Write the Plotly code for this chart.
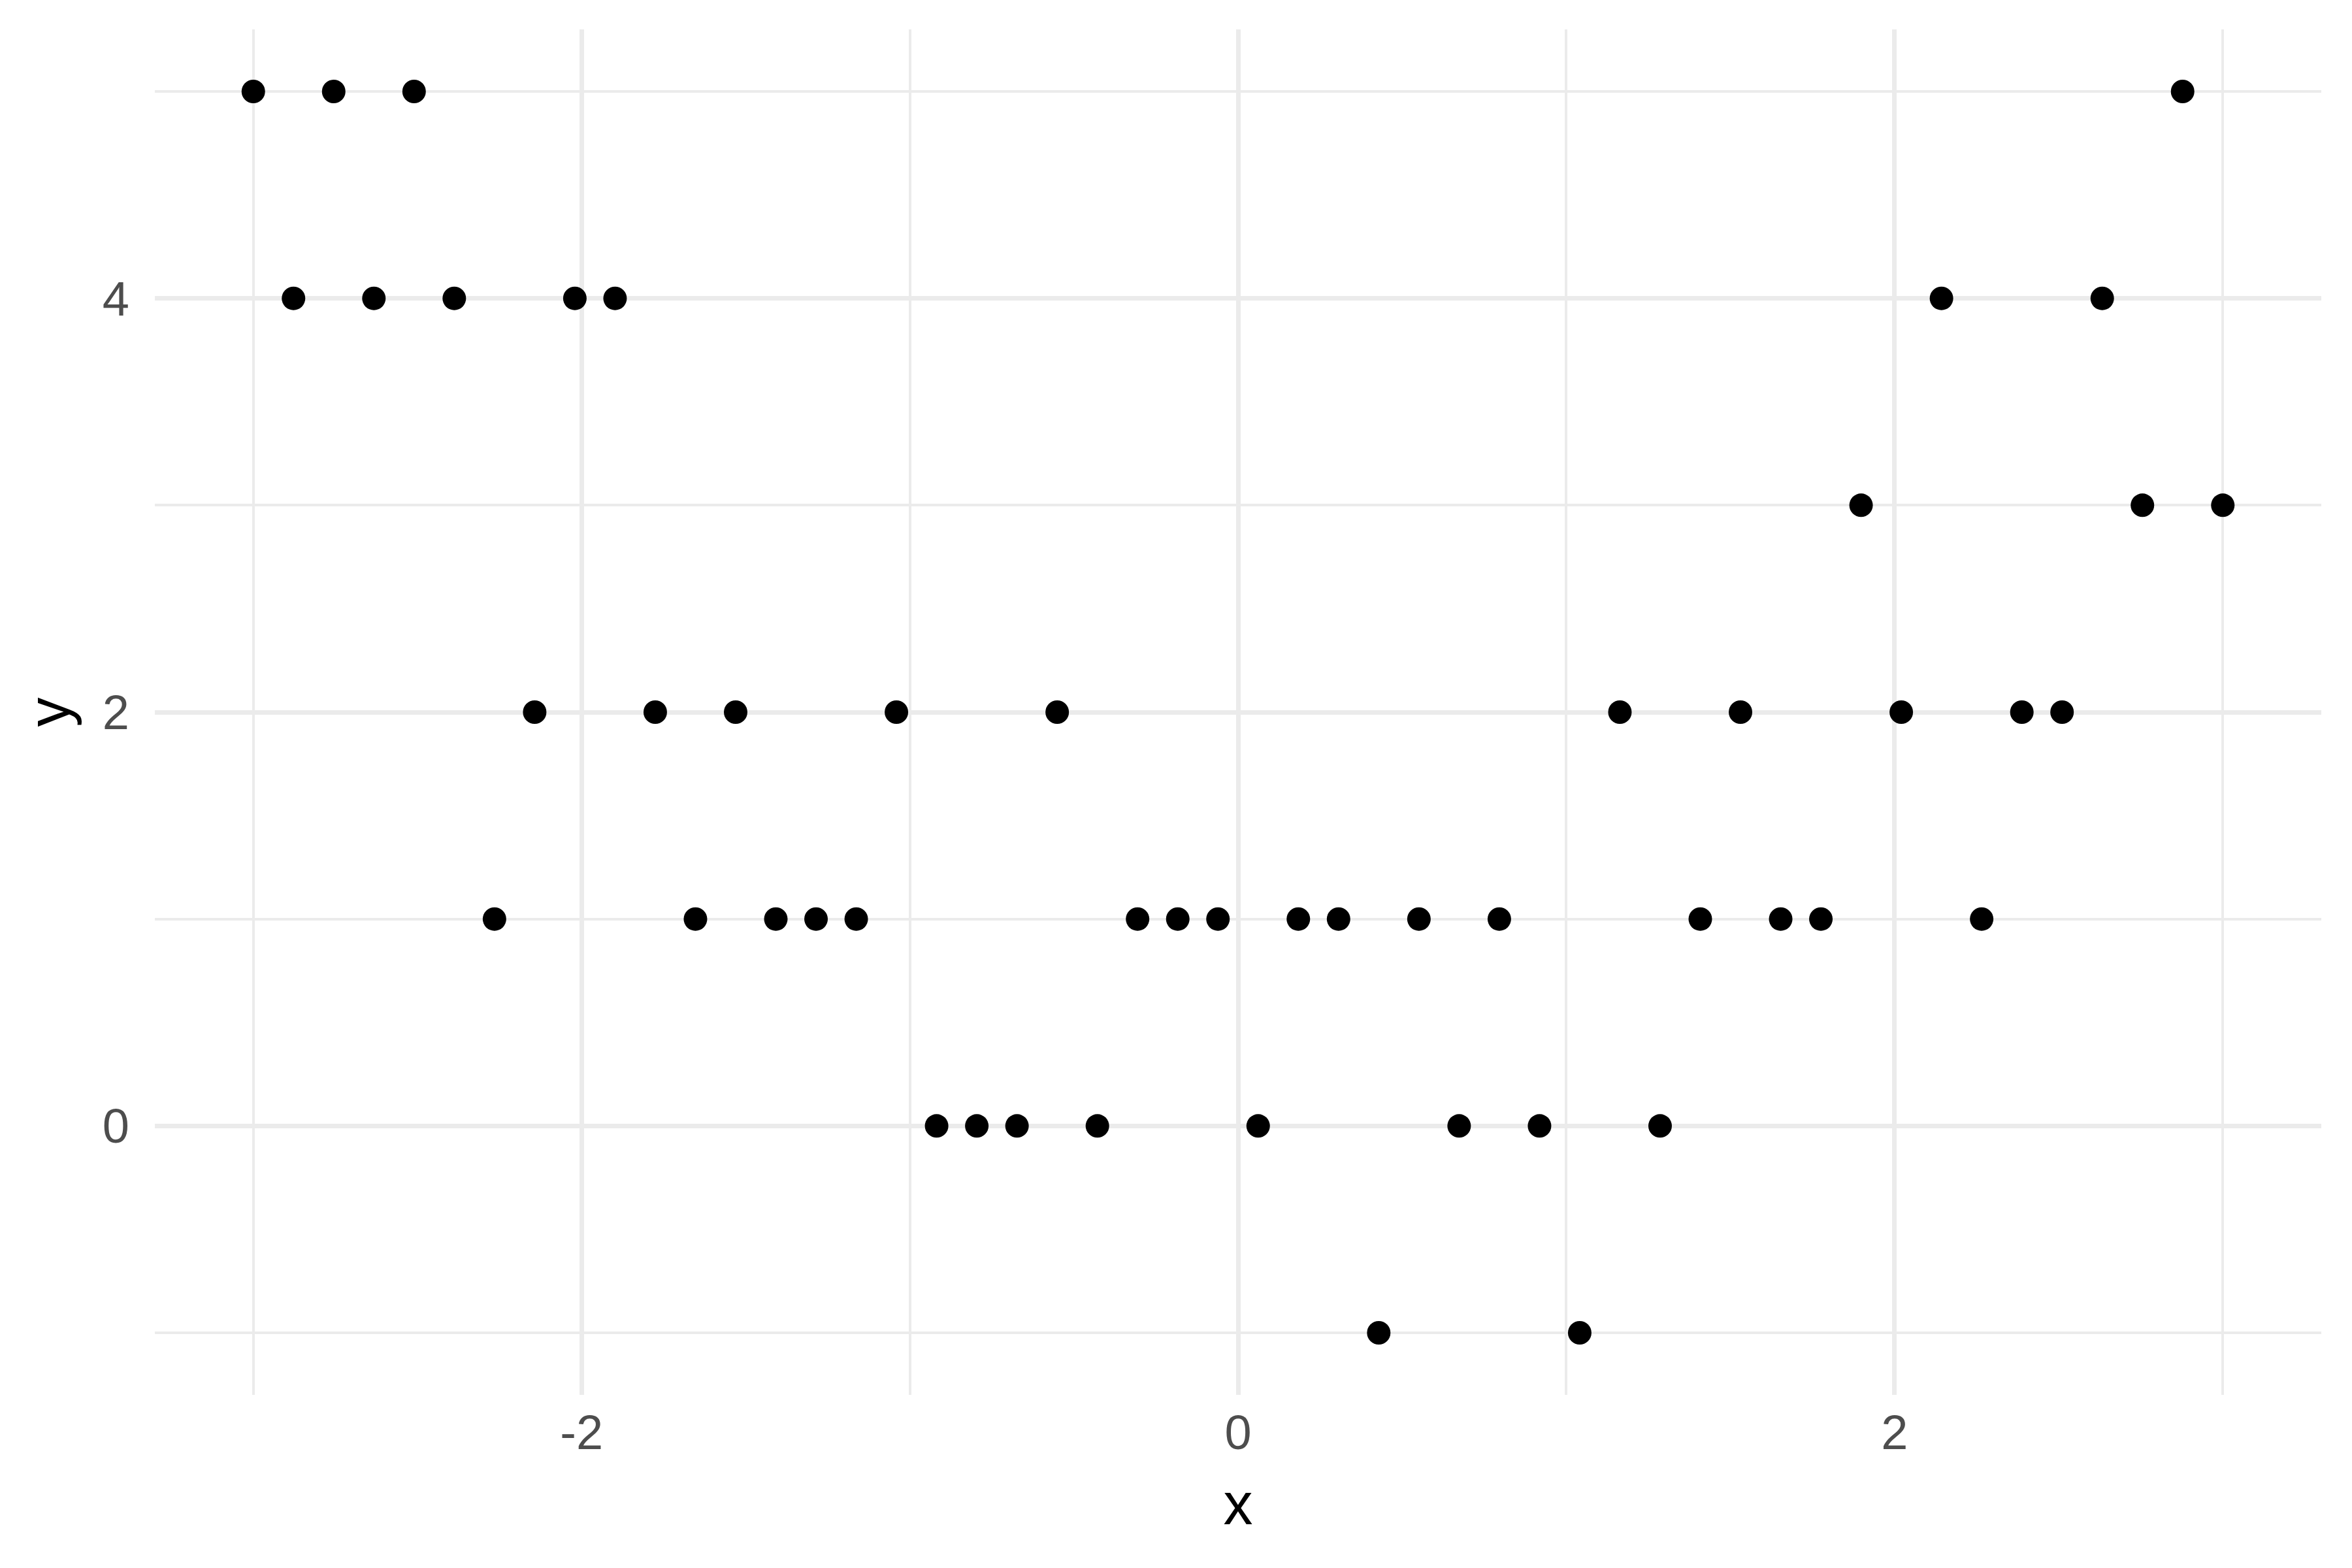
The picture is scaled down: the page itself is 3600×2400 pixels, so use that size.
import numpy as np
import plotly.graph_objects as go

x_vals = list(np.linspace(-3, 3, 50))
y_vals = [5, 4, 5, 4, 5, 4, 1, 2, 4, 4,
          2, 1, 2, 1, 1, 1, 2, 0, 0, 0,
          2, 0, 1, 1, 1, 0, 1, 1, -1, 1,
          0, 1, 0, -1, 2, 0, 1, 2, 1, 1,
          3, 2, 4, 1, 2, 2, 4, 3, 5, 3]
x_major = [-2, 0, 2]
x_minor = [-3, -1, 1, 3]
y_major = [0, 2, 4]
y_minor = [-1, 1, 3, 5]

fig = go.Figure()
fig.add_trace(go.Scatter(x=x_vals, y=y_vals, mode="markers",
                         marker=dict(color="black", size=36, line=dict(width=0)),
                         showlegend=False))

font = "Liberation Sans, Arial, sans-serif"
fig.update_layout(
    width=3600, height=2400,
    margin=dict(l=229, r=55, t=37, b=273),
    paper_bgcolor="white", plot_bgcolor="white",
    font=dict(family=font, color="#4D4D4D", size=74),
    xaxis=dict(range=[-3.3, 3.3], tickvals=x_major, ticktext=[str(v) for v in x_major],
               showgrid=True, gridcolor="#EBEBEB", gridwidth=7,
               zeroline=False, showline=False, ticks="",
               tickfont=dict(size=74, color="#4D4D4D"), ticklabelstandoff=8,
               minor=dict(tickvals=x_minor, showgrid=True, gridcolor="#EBEBEB", gridwidth=3.5, ticks=""),
               title=dict(text="x", font=dict(size=90, color="black"), standoff=36)),
    yaxis=dict(range=[-1.3, 5.3], tickvals=y_major, ticktext=[str(v) for v in y_major],
               showgrid=True, gridcolor="#EBEBEB", gridwidth=7,
               zeroline=False, showline=False, ticks="",
               tickfont=dict(size=74, color="#4D4D4D"), ticklabelstandoff=38,
               minor=dict(tickvals=y_minor, showgrid=True, gridcolor="#EBEBEB", gridwidth=3.5, ticks=""),
               title=dict(text="y", font=dict(size=90, color="black"), standoff=20)),
)
fig.write_html("out.html")
